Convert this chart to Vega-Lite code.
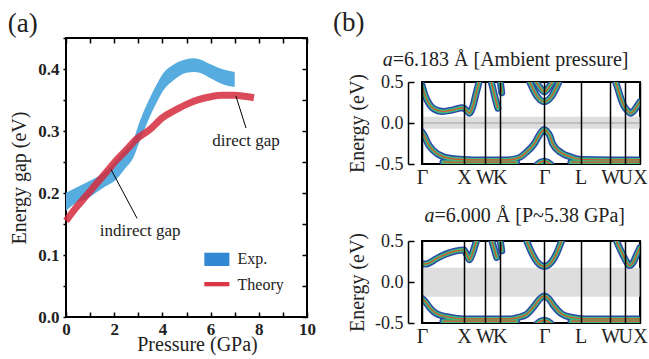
{
  "$schema": "https://vega.github.io/schema/vega-lite/v6.json",
  "padding": {"left": 6, "top": 9, "right": 0, "bottom": 0},
  "config": {
    "font": "Liberation Serif",
    "view": {"stroke": "black", "strokeWidth": 2},
    "title": {"font": "Liberation Serif", "fontWeight": "normal", "color": "#222"},
    "axis": {"labelFont": "Liberation Serif", "titleFont": "Liberation Serif", "titleFontWeight": "normal", "labelColor": "#222", "titleColor": "#222", "grid": false}
  },
  "datasets": {
    "exp": [
      {"P": 0, "lo": 0.171, "hi": 0.2005},
      {"P": 0.41, "lo": 0.184, "hi": 0.2085},
      {"P": 0.83, "lo": 0.19, "hi": 0.2166},
      {"P": 1.24, "lo": 0.2005, "hi": 0.2247},
      {"P": 1.66, "lo": 0.2113, "hi": 0.2355},
      {"P": 2.0, "lo": 0.219, "hi": 0.249},
      {"P": 2.42, "lo": 0.238, "hi": 0.268},
      {"P": 2.83, "lo": 0.26, "hi": 0.289},
      {"P": 3.0, "lo": 0.278, "hi": 0.309},
      {"P": 3.25, "lo": 0.302, "hi": 0.334},
      {"P": 3.5, "lo": 0.325, "hi": 0.355},
      {"P": 3.75, "lo": 0.345, "hi": 0.374},
      {"P": 4.0, "lo": 0.363, "hi": 0.391},
      {"P": 4.5, "lo": 0.383, "hi": 0.408},
      {"P": 5.0, "lo": 0.394, "hi": 0.4156},
      {"P": 5.3, "lo": 0.395, "hi": 0.4172},
      {"P": 5.6, "lo": 0.393, "hi": 0.415},
      {"P": 6.0, "lo": 0.385, "hi": 0.4075},
      {"P": 6.5, "lo": 0.3753, "hi": 0.3995},
      {"P": 7.0, "lo": 0.371, "hi": 0.395}
    ],
    "theory": [
      {"P": 0, "E": 0.155}, {"P": 0.41, "E": 0.176}, {"P": 0.83, "E": 0.195},
      {"P": 1.24, "E": 0.214}, {"P": 1.66, "E": 0.233}, {"P": 2.07, "E": 0.252},
      {"P": 2.49, "E": 0.269}, {"P": 2.9, "E": 0.286}, {"P": 3.5, "E": 0.303},
      {"P": 4.0, "E": 0.3215}, {"P": 4.5, "E": 0.333}, {"P": 5.0, "E": 0.343},
      {"P": 5.5, "E": 0.3505}, {"P": 6.0, "E": 0.3553}, {"P": 6.5, "E": 0.3575},
      {"P": 7.0, "E": 0.3575}, {"P": 7.4, "E": 0.356}, {"P": 7.8, "E": 0.3537}
    ],
    "ann": [
      {"x1": 7.05, "y1": 0.3565, "x2": 7.47, "y2": 0.3048},
      {"x1": 1.87, "y1": 0.238, "x2": 2.95, "y2": 0.159}
    ],
    "anntext": [
      {"P": 7.47, "E": 0.284, "text": "direct gap"},
      {"P": 3.08, "E": 0.139, "text": "indirect gap"}
    ],
    "leg": [
      {"series": "Exp.", "x1": 5.74, "x2": 6.78, "y1": 0.0823, "y2": 0.1037, "tx": 7.12, "ty": 0.0935},
      {"series": "Theory", "x1": 5.74, "x2": 6.78, "y1": 0.0495, "y2": 0.0565, "tx": 7.12, "ty": 0.0516}
    ],
    "gap1": [{"lo": -0.07, "hi": 0.075}],
    "gap2": [{"lo": -0.18, "hi": 0.175}],
    "t1": [
      {"s": "i", "k": -0.934, "E": 0.067, "t": "a"},
      {"s": "n", "k": -0.696, "E": 0.067, "t": "=6.183 Å [Ambient pressure]"}
    ],
    "t2": [
      {"s": "i", "k": 0.062, "E": 0.17, "t": "a"},
      {"s": "n", "k": 0.3, "E": 0.17, "t": "=6.000 Å [P~5.38 GPa]"}
    ],
    "b1": [
      {"b": "a", "k": 0, "E": 0.46}, {"b": "a", "k": 0.07, "E": 0.34}, {"b": "a", "k": 0.14, "E": 0.26},
      {"b": "a", "k": 0.26, "E": 0.18}, {"b": "a", "k": 0.5, "E": 0.14}, {"b": "a", "k": 0.74, "E": 0.16},
      {"b": "a", "k": 0.97, "E": 0.185}, {"b": "a", "k": 1.05, "E": 0.16}, {"b": "a", "k": 1.13, "E": 0.12},
      {"b": "a", "k": 1.21, "E": 0.2}, {"b": "a", "k": 1.29, "E": 0.36}, {"b": "a", "k": 1.34, "E": 0.46},
      {"b": "a", "k": 1.37, "E": 0.52},
      {"b": "wk", "k": 1.64, "E": 0.52}, {"b": "wk", "k": 1.69, "E": 0.42}, {"b": "wk", "k": 1.73, "E": 0.33},
      {"b": "wk", "k": 1.77, "E": 0.25}, {"b": "wk", "k": 1.81, "E": 0.18},
      {"b": "k", "k": 1.86, "E": 0.52}, {"b": "k", "k": 1.88, "E": 0.45}, {"b": "k", "k": 1.9, "E": 0.37},
      {"b": "g1", "k": 2.55, "E": 0.52}, {"b": "g1", "k": 2.64, "E": 0.42}, {"b": "g1", "k": 2.75, "E": 0.32},
      {"b": "g1", "k": 2.914, "E": 0.26}, {"b": "g1", "k": 3.08, "E": 0.32}, {"b": "g1", "k": 3.19, "E": 0.42},
      {"b": "g1", "k": 3.28, "E": 0.52},
      {"b": "g2", "k": 2.7, "E": 0.52}, {"b": "g2", "k": 2.8, "E": 0.44}, {"b": "g2", "k": 2.914, "E": 0.38},
      {"b": "g2", "k": 3.03, "E": 0.44}, {"b": "g2", "k": 3.13, "E": 0.52},
      {"b": "ux", "k": 4.6, "E": 0.52}, {"b": "ux", "k": 4.66, "E": 0.43}, {"b": "ux", "k": 4.72, "E": 0.33},
      {"b": "ux", "k": 4.8, "E": 0.22}, {"b": "ux", "k": 4.9, "E": 0.15}, {"b": "ux", "k": 4.97, "E": 0.12},
      {"b": "ux", "k": 5.05, "E": 0.15}, {"b": "ux", "k": 5.13, "E": 0.21}, {"b": "ux", "k": 5.195, "E": 0.26},
      {"b": "v", "k": 0, "E": -0.11}, {"b": "v", "k": 0.07, "E": -0.17}, {"b": "v", "k": 0.14, "E": -0.25},
      {"b": "v", "k": 0.26, "E": -0.33}, {"b": "v", "k": 0.5, "E": -0.41}, {"b": "v", "k": 0.8, "E": -0.44},
      {"b": "v", "k": 1.2, "E": -0.45}, {"b": "v", "k": 2.0, "E": -0.45}, {"b": "v", "k": 2.2, "E": -0.44},
      {"b": "v", "k": 2.36, "E": -0.41}, {"b": "v", "k": 2.48, "E": -0.36}, {"b": "v", "k": 2.68, "E": -0.25},
      {"b": "v", "k": 2.78, "E": -0.16}, {"b": "v", "k": 2.86, "E": -0.1}, {"b": "v", "k": 2.914, "E": -0.08},
      {"b": "v", "k": 2.97, "E": -0.1}, {"b": "v", "k": 3.05, "E": -0.16}, {"b": "v", "k": 3.11, "E": -0.25},
      {"b": "v", "k": 3.31, "E": -0.36}, {"b": "v", "k": 3.55, "E": -0.415}, {"b": "v", "k": 3.8, "E": -0.445},
      {"b": "v", "k": 4.5, "E": -0.45}, {"b": "v", "k": 5.195, "E": -0.45},
      {"b": "f1", "k": 0.5, "E": -0.478}, {"b": "f1", "k": 2.25, "E": -0.478},
      {"b": "f2", "k": 3.55, "E": -0.478}, {"b": "f2", "k": 5.195, "E": -0.478},
      {"b": "arc", "k": 2.72, "E": -0.52}, {"b": "arc", "k": 2.82, "E": -0.48}, {"b": "arc", "k": 2.914, "E": -0.465},
      {"b": "arc", "k": 3.0, "E": -0.48}, {"b": "arc", "k": 3.1, "E": -0.52}
    ],
    "b2": [
      {"b": "a", "k": 0, "E": 0.22}, {"b": "a", "k": 0.1, "E": 0.22}, {"b": "a", "k": 0.2, "E": 0.24},
      {"b": "a", "k": 0.33, "E": 0.28}, {"b": "a", "k": 0.57, "E": 0.34}, {"b": "a", "k": 0.82, "E": 0.38},
      {"b": "a", "k": 1.0, "E": 0.39}, {"b": "a", "k": 1.07, "E": 0.33}, {"b": "a", "k": 1.13, "E": 0.27},
      {"b": "a", "k": 1.19, "E": 0.33}, {"b": "a", "k": 1.26, "E": 0.44}, {"b": "a", "k": 1.31, "E": 0.52},
      {"b": "wk", "k": 1.66, "E": 0.52}, {"b": "wk", "k": 1.7, "E": 0.44}, {"b": "wk", "k": 1.74, "E": 0.37},
      {"b": "wk", "k": 1.78, "E": 0.3},
      {"b": "k", "k": 1.86, "E": 0.52}, {"b": "k", "k": 1.88, "E": 0.45}, {"b": "k", "k": 1.9, "E": 0.38},
      {"b": "g1", "k": 2.48, "E": 0.52}, {"b": "g1", "k": 2.63, "E": 0.34}, {"b": "g1", "k": 2.75, "E": 0.24},
      {"b": "g1", "k": 2.914, "E": 0.19}, {"b": "g1", "k": 3.08, "E": 0.24}, {"b": "g1", "k": 3.2, "E": 0.34},
      {"b": "g1", "k": 3.34, "E": 0.52},
      {"b": "ux", "k": 4.62, "E": 0.52}, {"b": "ux", "k": 4.66, "E": 0.47}, {"b": "ux", "k": 4.74, "E": 0.38},
      {"b": "ux", "k": 4.86, "E": 0.26}, {"b": "ux", "k": 4.94, "E": 0.2}, {"b": "ux", "k": 5.02, "E": 0.23},
      {"b": "ux", "k": 5.13, "E": 0.35}, {"b": "ux", "k": 5.195, "E": 0.42},
      {"b": "v", "k": 0, "E": -0.2}, {"b": "v", "k": 0.08, "E": -0.24}, {"b": "v", "k": 0.18, "E": -0.31},
      {"b": "v", "k": 0.33, "E": -0.38}, {"b": "v", "k": 0.65, "E": -0.43}, {"b": "v", "k": 1.0, "E": -0.45},
      {"b": "v", "k": 2.1, "E": -0.45}, {"b": "v", "k": 2.3, "E": -0.43}, {"b": "v", "k": 2.48, "E": -0.4},
      {"b": "v", "k": 2.68, "E": -0.29}, {"b": "v", "k": 2.8, "E": -0.21}, {"b": "v", "k": 2.914, "E": -0.17},
      {"b": "v", "k": 3.03, "E": -0.21}, {"b": "v", "k": 3.14, "E": -0.29}, {"b": "v", "k": 3.33, "E": -0.39},
      {"b": "v", "k": 3.55, "E": -0.43}, {"b": "v", "k": 3.9, "E": -0.45}, {"b": "v", "k": 5.195, "E": -0.45},
      {"b": "f1", "k": 0.5, "E": -0.478}, {"b": "f1", "k": 2.25, "E": -0.478},
      {"b": "f2", "k": 3.55, "E": -0.478}, {"b": "f2", "k": 5.195, "E": -0.478},
      {"b": "arc", "k": 2.72, "E": -0.52}, {"b": "arc", "k": 2.82, "E": -0.48}, {"b": "arc", "k": 2.914, "E": -0.465},
      {"b": "arc", "k": 3.0, "E": -0.48}, {"b": "arc", "k": 3.1, "E": -0.52}
    ]
  },
  "align": "none",
  "spacing": 16,
  "hconcat": [
    {
      "width": 241,
      "height": 279,
      "view": {"stroke": "black", "strokeWidth": 2},
      "title": {"text": "(a)", "anchor": "start", "frame": "bounds", "fontSize": 27, "offset": -9, "dx": -2},
      "layer": [
        {
          "data": {"name": "exp"},
          "mark": {"type": "area", "color": "#56acdf", "interpolate": "monotone"},
          "encoding": {
            "x": {"field": "P", "type": "quantitative", "scale": {"domain": [0, 10], "nice": false},
              "axis": {"title": "Pressure (GPa)", "values": [0, 1, 2, 3, 4, 5, 6, 7, 8, 9, 10], "tickCount": 50,
                "labelExpr": "datum.value % 2 == 0 ? format(datum.value, 'd') : ''", "tickSize": -5, "tickWidth": 1.5, "tickColor": "black",
                "domain": false, "labelFontSize": 17, "labelFontWeight": "bold", "labelPadding": 9, "titleFontSize": 20, "titlePadding": -3,
                "labelFlush": false, "labelOverlap": false, "titleX": 131}},
            "y": {"field": "lo", "type": "quantitative", "scale": {"domain": [0, 0.45], "nice": false},
              "axis": {"title": "Energy gap (eV)", "values": [0, 0.05, 0.1, 0.15, 0.2, 0.25, 0.3, 0.35, 0.4, 0.45], "tickCount": 50,
                "labelExpr": "abs(datum.value * 10 - round(datum.value * 10)) < 0.01 ? format(datum.value, '.1f') : ''",
                "tickSize": 3, "tickWidth": 1.5, "tickColor": "black", "domain": false,
                "labelFontSize": 17, "labelFontWeight": "bold", "labelPadding": 4, "titleFontSize": 20, "titlePadding": 8, "labelOverlap": false, "labelFlush": false}},
            "y2": {"field": "hi"}
          }
        },
        {
          "data": {"name": "theory"},
          "mark": {"type": "line", "color": "#d42a3c", "strokeWidth": 7, "opacity": 0.85, "interpolate": "monotone", "strokeCap": "butt"},
          "encoding": {
            "x": {"field": "P", "type": "quantitative", "axis": null},
            "y": {"field": "E", "type": "quantitative", "axis": null}
          }
        },
        {
          "data": {"name": "ann"},
          "mark": {"type": "rule", "color": "black", "strokeWidth": 1},
          "encoding": {
            "x": {"field": "x1", "type": "quantitative", "axis": null},
            "x2": {"field": "x2"},
            "y": {"field": "y1", "type": "quantitative", "axis": null},
            "y2": {"field": "y2"}
          }
        },
        {
          "data": {"name": "anntext"},
          "mark": {"type": "text", "fontSize": 17, "align": "center", "baseline": "middle", "color": "#222"},
          "encoding": {
            "x": {"field": "P", "type": "quantitative", "axis": null},
            "y": {"field": "E", "type": "quantitative", "axis": null},
            "text": {"field": "text"}
          }
        },
        {
          "data": {"name": "leg"},
          "mark": {"type": "rect"},
          "encoding": {
            "x": {"field": "x1", "type": "quantitative", "axis": null},
            "x2": {"field": "x2"},
            "y": {"field": "y1", "type": "quantitative", "axis": null},
            "y2": {"field": "y2"},
            "color": {"field": "series", "type": "nominal", "scale": {"domain": ["Exp.", "Theory"], "range": ["#3388d4", "#dc3545"]}, "legend": null}
          }
        },
        {
          "data": {"name": "leg"},
          "mark": {"type": "text", "fontSize": 16, "align": "left", "baseline": "middle", "color": "#222"},
          "encoding": {
            "x": {"field": "tx", "type": "quantitative", "axis": null},
            "y": {"field": "ty", "type": "quantitative", "axis": null},
            "text": {"field": "series"}
          }
        },
        {
          "data": {"name": "theory"},
          "mark": {"type": "point", "opacity": 0},
          "encoding": {
            "x": {"field": "P", "type": "quantitative",
              "axis": {"orient": "top", "title": null, "labels": false, "values": [0, 1, 2, 3, 4, 5, 6, 7, 8, 9, 10], "tickCount": 50, "tickSize": -5, "tickWidth": 1.5, "tickColor": "black", "domain": false}},
            "y": {"field": "E", "type": "quantitative",
              "axis": {"orient": "right", "title": null, "labels": false, "values": [0, 0.05, 0.1, 0.15, 0.2, 0.25, 0.3, 0.35, 0.4, 0.45], "tickCount": 50, "tickSize": -5, "tickWidth": 1.5, "tickColor": "black", "domain": false}}
          }
        }
      ],
      "resolve": {"axis": {"x": "independent", "y": "independent"}}
    },
    {
      "align": "each",
      "spacing": 2,
      "vconcat": [
        {
          "width": 218,
          "height": 30,
          "view": {"stroke": null},
          "title": {"text": "(b)", "anchor": "start", "frame": "group", "fontSize": 27, "offset": 1, "dx": -89},
          "data": {"name": "t1"},
          "layer": [
            {
              "transform": [{"filter": "datum.s == 'i'"}],
              "mark": {"type": "text", "fontSize": 20, "fontStyle": "italic", "align": "left", "baseline": "alphabetic", "color": "#222"},
              "encoding": {
                "x": {"field": "k", "type": "quantitative", "scale": {"domain": [0, 5.195], "nice": false, "zero": false}, "axis": null},
                "y": {"field": "E", "type": "quantitative", "scale": {"domain": [0, 1], "nice": false, "zero": false}, "axis": null},
                "text": {"field": "t"}
              }
            },
            {
              "transform": [{"filter": "datum.s == 'n'"}],
              "mark": {"type": "text", "fontSize": 20, "align": "left", "baseline": "alphabetic", "color": "#222"},
              "encoding": {
                "x": {"field": "k", "type": "quantitative", "axis": null},
                "y": {"field": "E", "type": "quantitative", "axis": null},
                "text": {"field": "t"}
              }
            }
          ]
        },
        {
          "width": 218,
          "height": 82,
          "layer": [
            {
              "data": {"name": "gap1"},
              "mark": {"type": "rect", "color": "#d8d8d8", "opacity": 0.85},
              "encoding": {
                "y": {"field": "lo", "type": "quantitative", "scale": {"domain": [-0.5, 0.5], "nice": false}, "title": "Energy (eV)",
                  "axis": {"values": [-0.5, 0, 0.5], "tickCount": 20, "format": ".1f", "labelExpr": "replace(datum.label, '−', '-')", "offset": 14, "domain": true, "domainColor": "black", "domainWidth": 1.5,
                    "tickSize": -6, "tickColor": "black", "tickWidth": 1.5, "labelFontSize": 18, "labelPadding": 11, "titleFontSize": 20, "titlePadding": 7}},
                "y2": {"field": "hi"}
              }
            },
            {
              "data": {"name": "gap1"},
              "mark": {"type": "rule", "color": "#a0a0a0", "strokeWidth": 1},
              "encoding": {"y": {"datum": 0, "type": "quantitative", "title": "Energy (eV)"}}
            },
            {
              "data": {"name": "b1"},
              "mark": {"type": "line", "color": "#2b4aa8", "strokeWidth": 7, "interpolate": "monotone", "clip": true, "strokeCap": "round"},
              "encoding": {
                "x": {"field": "k", "type": "quantitative", "scale": {"domain": [0, 5.195], "nice": false, "zero": false}, "title": null,
                  "axis": {"values": [0, 1, 1.5, 1.854, 2.914, 3.78, 4.487, 4.841, 5.195], "tickCount": 50,
                    "labelExpr": "['Γ','X','W','K','Γ','L','W','U','X'][indexof([0, 1, 1.5, 1.854, 2.914, 3.78, 4.487, 4.841, 5.195], datum.value)]",
                    "grid": true, "gridColor": "black", "gridWidth": 1.5, "gridOpacity": 1, "ticks": false, "domain": false,
                    "labelFontSize": 20, "labelPadding": 3, "zindex": 1, "labelFlush": false, "labelOverlap": false, "labelBound": false}},
                "y": {"field": "E", "type": "quantitative", "title": "Energy (eV)"},
                "detail": {"field": "b", "type": "nominal"}
              }
            },
            {
              "data": {"name": "b1"},
              "mark": {"type": "line", "color": "#3dbb7a", "strokeWidth": 4, "interpolate": "monotone", "clip": true, "strokeCap": "round"},
              "encoding": {
                "x": {"field": "k", "type": "quantitative", "title": null},
                "y": {"field": "E", "type": "quantitative", "title": "Energy (eV)"},
                "detail": {"field": "b", "type": "nominal"}
              }
            },
            {
              "data": {"name": "b1"},
              "mark": {"type": "line", "color": "#e0502a", "strokeWidth": 1.2, "interpolate": "monotone", "clip": true},
              "encoding": {
                "x": {"field": "k", "type": "quantitative", "title": null},
                "y": {"field": "E", "type": "quantitative", "title": "Energy (eV)"},
                "detail": {"field": "b", "type": "nominal"}
              }
            }
          ]
        },
        {
          "width": 218,
          "height": 39,
          "view": {"stroke": null},
          "data": {"name": "t2"},
          "layer": [
            {
              "transform": [{"filter": "datum.s == 'i'"}],
              "mark": {"type": "text", "fontSize": 20, "fontStyle": "italic", "align": "left", "baseline": "alphabetic", "color": "#222"},
              "encoding": {
                "x": {"field": "k", "type": "quantitative", "scale": {"domain": [0, 5.195], "nice": false, "zero": false}, "axis": null},
                "y": {"field": "E", "type": "quantitative", "scale": {"domain": [0, 1], "nice": false, "zero": false}, "axis": null},
                "text": {"field": "t"}
              }
            },
            {
              "transform": [{"filter": "datum.s == 'n'"}],
              "mark": {"type": "text", "fontSize": 20, "align": "left", "baseline": "alphabetic", "color": "#222"},
              "encoding": {
                "x": {"field": "k", "type": "quantitative", "axis": null},
                "y": {"field": "E", "type": "quantitative", "axis": null},
                "text": {"field": "t"}
              }
            }
          ]
        },
        {
          "width": 218,
          "height": 82,
          "layer": [
            {
              "data": {"name": "gap2"},
              "mark": {"type": "rect", "color": "#d8d8d8", "opacity": 0.85},
              "encoding": {
                "y": {"field": "lo", "type": "quantitative", "scale": {"domain": [-0.5, 0.5], "nice": false}, "title": "Energy (eV)",
                  "axis": {"values": [-0.5, 0, 0.5], "tickCount": 20, "format": ".1f", "labelExpr": "replace(datum.label, '−', '-')", "offset": 14, "domain": true, "domainColor": "black", "domainWidth": 1.5,
                    "tickSize": -6, "tickColor": "black", "tickWidth": 1.5, "labelFontSize": 18, "labelPadding": 11, "titleFontSize": 20, "titlePadding": 7}},
                "y2": {"field": "hi"}
              }
            },
            {
              "data": {"name": "b2"},
              "mark": {"type": "line", "color": "#2b4aa8", "strokeWidth": 7, "interpolate": "monotone", "clip": true, "strokeCap": "round"},
              "encoding": {
                "x": {"field": "k", "type": "quantitative", "scale": {"domain": [0, 5.195], "nice": false, "zero": false}, "title": null,
                  "axis": {"values": [0, 1, 1.5, 1.854, 2.914, 3.78, 4.487, 4.841, 5.195], "tickCount": 50,
                    "labelExpr": "['Γ','X','W','K','Γ','L','W','U','X'][indexof([0, 1, 1.5, 1.854, 2.914, 3.78, 4.487, 4.841, 5.195], datum.value)]",
                    "grid": true, "gridColor": "black", "gridWidth": 1.5, "gridOpacity": 1, "ticks": false, "domain": false,
                    "labelFontSize": 20, "labelPadding": 3, "zindex": 1, "labelFlush": false, "labelOverlap": false, "labelBound": false}},
                "y": {"field": "E", "type": "quantitative", "title": "Energy (eV)"},
                "detail": {"field": "b", "type": "nominal"}
              }
            },
            {
              "data": {"name": "b2"},
              "mark": {"type": "line", "color": "#3dbb7a", "strokeWidth": 4, "interpolate": "monotone", "clip": true, "strokeCap": "round"},
              "encoding": {
                "x": {"field": "k", "type": "quantitative", "title": null},
                "y": {"field": "E", "type": "quantitative", "title": "Energy (eV)"},
                "detail": {"field": "b", "type": "nominal"}
              }
            },
            {
              "data": {"name": "b2"},
              "mark": {"type": "line", "color": "#e0502a", "strokeWidth": 1.2, "interpolate": "monotone", "clip": true},
              "encoding": {
                "x": {"field": "k", "type": "quantitative", "title": null},
                "y": {"field": "E", "type": "quantitative", "title": "Energy (eV)"},
                "detail": {"field": "b", "type": "nominal"}
              }
            }
          ]
        }
      ]
    }
  ]
}
